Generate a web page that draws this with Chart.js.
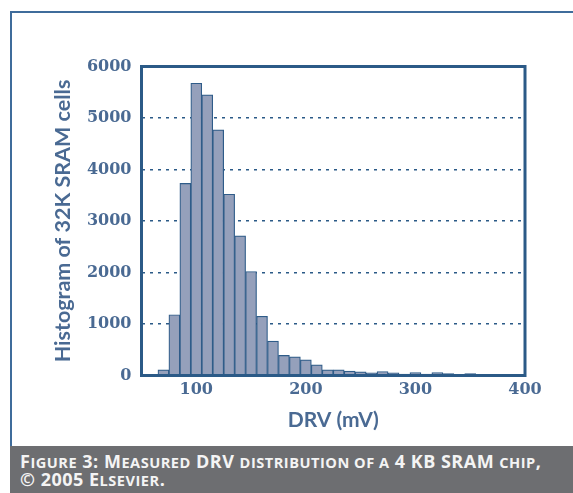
<!DOCTYPE html>
<html>
<head>
<meta charset="utf-8">
<script src="https://cdn.jsdelivr.net/npm/chart.js@4/dist/chart.umd.min.js"></script>
<style>
  html, body { margin: 0; padding: 0; background: #fff; }
  #page { position: relative; width: 573px; height: 493px; overflow: hidden; }
  #frame {
    position: absolute; left: 10px; top: 11px; width: 600px; height: 435px;
    border-left: 2px solid #3f6c9b; border-top: 2px solid #3f6c9b; box-sizing: border-box;
  }
  #plot { position: absolute; left: 0; top: 0; }
  #caption {
    position: absolute; left: 10px; top: 446px; width: 563px; height: 47px;
    background: #6d6e71; color: #f4f4f4; box-sizing: border-box;
    padding: 7px 0 0 10px;
    font-family: "Open Sans", Lato, sans-serif; font-weight: bold; font-size: 18px;
    line-height: 17px; white-space: nowrap; letter-spacing: 0.5px;
  }
  #caption .sc { font-size: 14.6px; text-transform: uppercase; }
</style>
</head>
<body>
<div id="page">
  <div id="frame"></div>
  <canvas id="plot" width="573" height="446"></canvas>
  <div id="caption">F<span class="sc">igure</span> 3: M<span class="sc">easured</span> DRV <span class="sc">distribution of a</span> 4 KB SRAM <span class="sc">chip</span>,<br>© 2005 E<span class="sc">lsevier</span>.</div>
</div>
<script>
// Bin centres of the DRV histogram (mV), 10 mV wide bins
const binCenters = [70, 80, 90, 100, 110, 120, 130, 140, 150, 160, 170, 180, 190, 200,
  210, 220, 230, 240, 250, 260, 270, 280, 290, 300, 310, 320, 330, 340, 350];
// Number of cells in each bin (out of 32K cells)
const cellCounts = [110, 1180, 3730, 5675, 5450, 4770, 3520, 2710, 2020, 1150, 667, 390, 363, 305,
  208, 110, 110, 84, 71, 52, 78, 52, 26, 58, 26, 58, 39, 15, 39];
const xTickValues = [100, 200, 300, 400];
const yTickValues = [0, 1000, 2000, 3000, 4000, 5000, 6000];

const navy = '#2b5a87';
const labelBlue = '#4a6a93';
const plainNumber = v => String(v);

// Full rectangular box around the plotting area
const plotBox = {
  id: 'plotBox',
  afterDatasetsDraw(chart) {
    const a = chart.chartArea, ctx = chart.ctx;
    ctx.save();
    ctx.strokeStyle = navy;
    ctx.lineWidth = 3;
    ctx.strokeRect(a.left, a.top, a.right - a.left, a.bottom - a.top);
    ctx.restore();
  }
};

new Chart(document.getElementById('plot'), {
  type: 'bar',
  data: {
    datasets: [{
      data: binCenters.map((c, i) => ({ x: c, y: cellCounts[i] })),
      backgroundColor: '#95a0bb',
      borderColor: '#2f5c89',
      borderWidth: 1.2,
      barPercentage: 1,
      categoryPercentage: 1
    }]
  },
  options: {
    responsive: false,
    animation: false,
    events: [],
    layout: { padding: { left: 40, right: 48, top: 66.5, bottom: 0 } },
    plugins: { legend: { display: false }, tooltip: { enabled: false } },
    scales: {
      x: {
        type: 'linear',
        offset: false,
        min: 50, max: 400,
        afterBuildTicks(s) { s.ticks = xTickValues.map(v => ({ value: v })); },
        afterFit(s) { s.height = 70.5; },
        grid: { display: false, drawTicks: false },
        border: { display: false },
        ticks: {
          padding: 5,
          color: labelBlue,
          callback: plainNumber,
          font: { family: '"DejaVu Serif", serif', weight: 'bold', size: 16 }
        },
        title: {
          display: true,
          text: 'DRV (mV)',
          color: labelBlue,
          font: { family: 'Lato, "Open Sans", sans-serif', weight: 'bold', size: 21 },
          padding: { top: 0, bottom: 13 }
        }
      },
      y: {
        min: 0, max: 6000,
        afterBuildTicks(s) { s.ticks = yTickValues.map(v => ({ value: v })); },
        afterFit(s) { s.width = 101.5; },
        grid: {
          drawTicks: false,
          color: ctx => (ctx.tick && (ctx.tick.value === 0 || ctx.tick.value === 6000)) ? 'rgba(0,0,0,0)' : navy,
          lineWidth: 1.6
        },
        border: { display: false, dash: [3, 5] },
        ticks: {
          padding: 10,
          color: labelBlue,
          callback: plainNumber,
          font: { family: '"DejaVu Serif", serif', weight: 'bold', size: 16 }
        },
        title: {
          display: true,
          text: 'Histogram of 32K SRAM cells',
          color: labelBlue,
          font: { family: 'Lato, "Open Sans", sans-serif', weight: 'bold', size: 21.5 },
          padding: { top: 10, bottom: 0 }
        }
      }
    }
  },
  plugins: [plotBox]
});
</script>
</body>
</html>
